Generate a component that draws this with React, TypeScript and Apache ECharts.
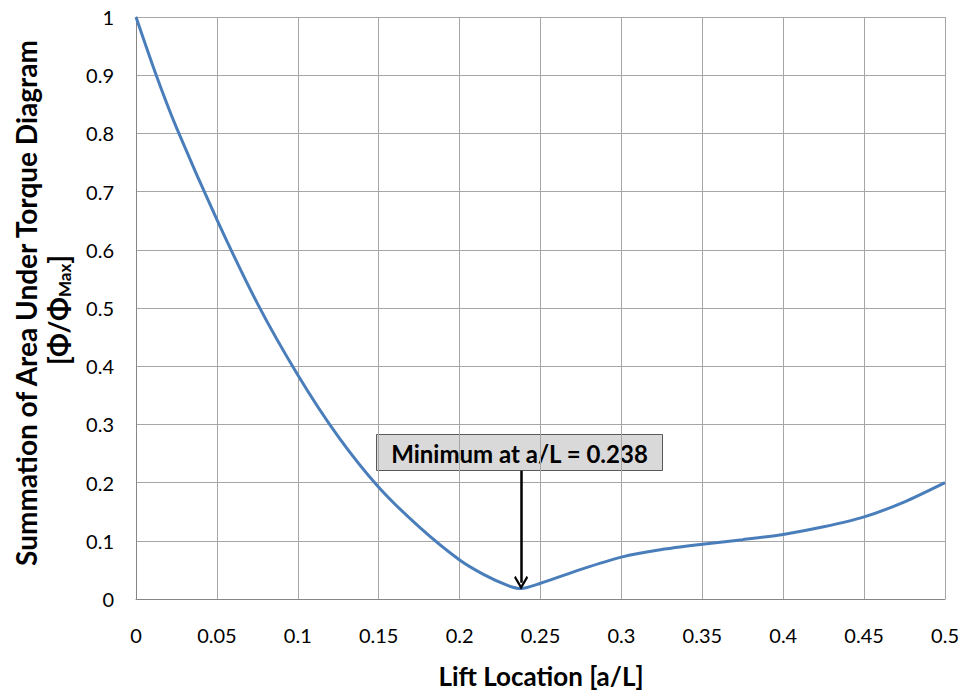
import React, { useEffect, useRef } from "react";
import * as echarts from "echarts";

const liftLocation = [0, 0.0125, 0.025, 0.05, 0.075, 0.1, 0.125, 0.15, 0.175, 0.2, 0.215, 0.23, 0.238, 0.25, 0.275, 0.3, 0.325, 0.35, 0.375, 0.4, 0.425, 0.45, 0.475, 0.5];
const areaSum = [1, 0.9, 0.81, 0.652, 0.508, 0.385, 0.279, 0.192, 0.124, 0.067, 0.042, 0.023, 0.018, 0.027, 0.051, 0.072, 0.085, 0.094, 0.102, 0.111, 0.124, 0.141, 0.167, 0.2];
const minimumX = 0.238;
const minimumY = 0.02;
const annotationText = "Minimum at a/L = 0.238";
const xTitle = "Lift Location [a/L]";
const yTitle = "Summation of Area Under Torque Diagram";

const FONT = "Lato, 'Open Sans', sans-serif";

export default function App() {
  const ref = useRef<HTMLDivElement>(null);
  useEffect(() => {
    if (!ref.current) return;
    const chart = echarts.init(ref.current, null, { renderer: "svg" });
    const data = liftLocation.map((x, i) => [x, areaSum[i]]);
    chart.setOption({
      animation: false,
      backgroundColor: "#ffffff",
      grid: { left: 136, right: 16, top: 17, bottom: 94, containLabel: false },
      xAxis: {
        type: "value",
        min: 0,
        max: 0.5,
        interval: 0.05,
        axisLine: { show: true, lineStyle: { color: "#868686", width: 1 } },
        axisTick: { show: false },
        splitLine: { show: true, lineStyle: { color: "#a6a6a6", width: 1 } },
        axisLabel: { color: "#000", fontSize: 20, fontFamily: FONT, margin: 26 },
      },
      yAxis: {
        type: "value",
        min: 0,
        max: 1,
        interval: 0.1,
        axisLine: { show: true, lineStyle: { color: "#868686", width: 1 } },
        axisTick: { show: false },
        splitLine: { show: true, lineStyle: { color: "#a6a6a6", width: 1 } },
        axisLabel: { color: "#000", fontSize: 20, fontFamily: FONT, margin: 22 },
      },
      series: [
        {
          type: "line",
          data,
          smooth: 0.25,
          showSymbol: false,
          symbol: "none",
          lineStyle: { color: "#4a7ebb", width: 3 },
          markLine: {
            silent: true,
            symbol: ["none", "path://M5,0 L10,7 L9,8.2 L5,2.6 L1,8.2 L0,7 Z"],
            symbolSize: [14, 14],
            label: { show: false },
            lineStyle: { color: "#000", width: 2.5, type: "solid" },
            data: [[{ coord: [minimumX, 0.2204] }, { coord: [minimumX, minimumY + 0.008] }]],
          },
        },
      ],
      graphic: [
        {
          type: "group",
          left: 376,
          top: 434,
          children: [
            {
              type: "rect",
              shape: { x: 0, y: 0, width: 286, height: 36 },
              style: { fill: "#d9d9d9", stroke: "#595959", lineWidth: 1 },
            },
            {
              type: "text",
              x: 143,
              y: 19,
              style: {
                text: annotationText,
                font: `bold 24px ${FONT}`,
                fill: "#000",
                align: "center",
                verticalAlign: "middle",
              },
            },
          ],
        },
        {
          type: "text",
          x: 541,
          y: 676,
          style: {
            text: xTitle,
            font: `bold 26px ${FONT}`,
            fill: "#000",
            align: "center",
            verticalAlign: "middle",
          },
        },
        {
          type: "text",
          x: 26,
          y: 303,
          rotation: Math.PI / 2,
          style: {
            text: yTitle,
            font: `bold 28px ${FONT}`,
            fill: "#000",
            align: "center",
            verticalAlign: "middle",
          },
        },
        {
          type: "text",
          x: 58,
          y: 310,
          rotation: Math.PI / 2,
          style: {
            text: "{a|[Φ/Φ}{s|Max}{a|]}",
            align: "center",
            verticalAlign: "middle",
            rich: {
              a: { font: `bold 28px ${FONT}`, color: "#000" } as any,
              s: { font: `bold 17px ${FONT}`, color: "#000", padding: [12, 0, 0, 0], verticalAlign: "bottom" } as any,
            },
          },
        },
      ],
    });
    return () => chart.dispose();
  }, []);
  return <div ref={ref} style={{ position: "fixed", left: 0, top: 0, width: 962, height: 693 }} />;
}
